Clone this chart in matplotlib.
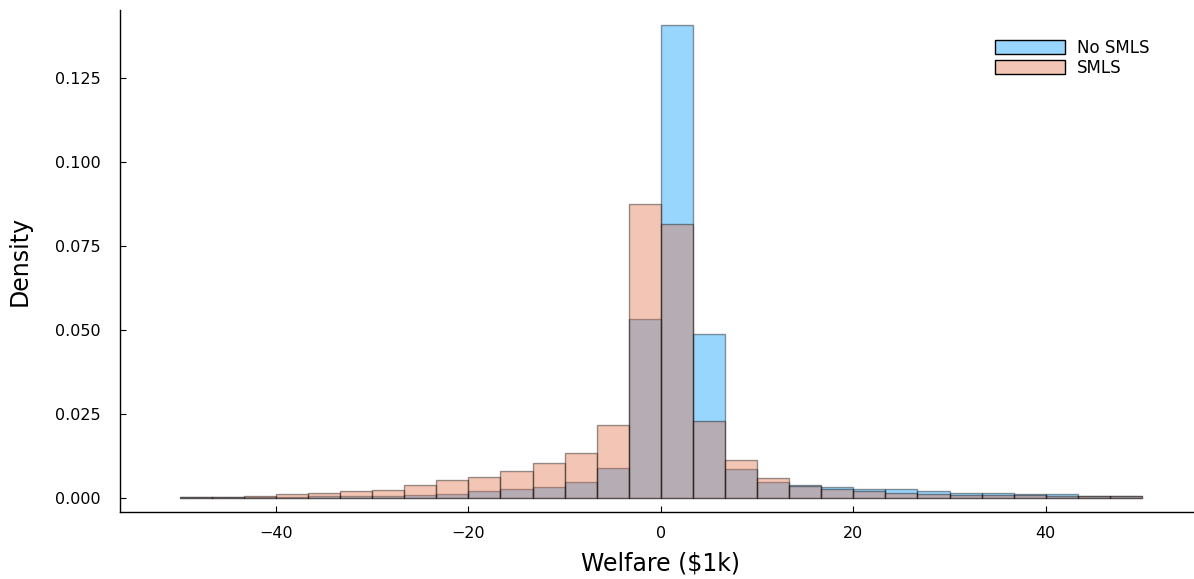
import numpy as np
import matplotlib
matplotlib.use("Agg")
import matplotlib.pyplot as plt

# histogram densities, 30 equal bins between -50 and 50
bin_lo, bin_hi, n_bins = -50, 50, 30

no_smls = [0.0002, 0.0003, 0.0003, 0.0004, 0.0005, 0.0006, 0.0007, 0.0009, 0.0012, 0.0020,
           0.0025, 0.0032, 0.0047, 0.0088, 0.0533, 0.1408, 0.0488, 0.0085, 0.0046, 0.0037,
           0.0032, 0.0026, 0.0027, 0.0021, 0.0016, 0.0015, 0.0012, 0.0011, 0.0007, 0.0006]
smls = [0.0003, 0.0004, 0.0005, 0.0011, 0.0014, 0.0021, 0.0024, 0.0038, 0.0053, 0.0062,
        0.0079, 0.0103, 0.0133, 0.0218, 0.0875, 0.0815, 0.0229, 0.0112, 0.0059, 0.0035,
        0.0026, 0.0020, 0.0016, 0.0013, 0.0010, 0.0008, 0.0010, 0.0007, 0.0006, 0.0005]

series_names = ["No SMLS", "SMLS"]
series_colors = ["#009AFA", "#E36F47"]

yticks = [0.0, 0.025, 0.05, 0.075, 0.1, 0.125]
xticks = [-40, -20, 0, 20, 40]

edges = np.linspace(bin_lo, bin_hi, n_bins + 1)

fig = plt.figure(figsize=(11.94, 5.79), dpi=100)
ax = fig.add_axes([120 / 1194, 67 / 579, 1073 / 1194, 502 / 579])

for vals, name, col in zip([no_smls, smls], series_names, series_colors):
    ax.bar(edges[:-1], vals, width=np.diff(edges), align="edge", color=col,
           edgecolor="black", linewidth=1.0, alpha=0.4, label=name)

ax.set_xlim(-56.2, 55.3)
ax.set_ylim(-0.0042, 0.1452)
ax.set_xticks(xticks)
ax.set_yticks(yticks)
ax.set_yticklabels([f"{t:.3f}" for t in yticks])

for side in ["top", "right"]:
    ax.spines[side].set_visible(False)
for side in ["left", "bottom"]:
    ax.spines[side].set_linewidth(1.0)

ax.tick_params(axis="both", direction="in", length=4.5, width=0.8, labelsize=11.5)
ax.tick_params(axis="x", pad=10)
ax.tick_params(axis="y", pad=14)

ax.set_xlabel("Welfare (\\$1k)", fontsize=17)
ax.set_ylabel("Density", fontsize=17)
ax.xaxis.set_label_coords(0.504, -0.078)
ax.yaxis.set_label_coords(-0.082, 0.5)

leg = ax.legend(loc="upper left", bbox_to_anchor=(995 / 1194, 1 - 39 / 579),
                bbox_transform=fig.transFigure, frameon=False, fontsize=12,
                handlelength=4.2, handleheight=0.95, handletextpad=0.7,
                labelspacing=0.1, borderpad=0, borderaxespad=0)
for h in leg.legend_handles:
    h.set_alpha(None)
    h.set_facecolor(h.get_facecolor()[:3] + (0.4,))
    h.set_edgecolor("black")

fig.savefig("out.png", dpi=100)
